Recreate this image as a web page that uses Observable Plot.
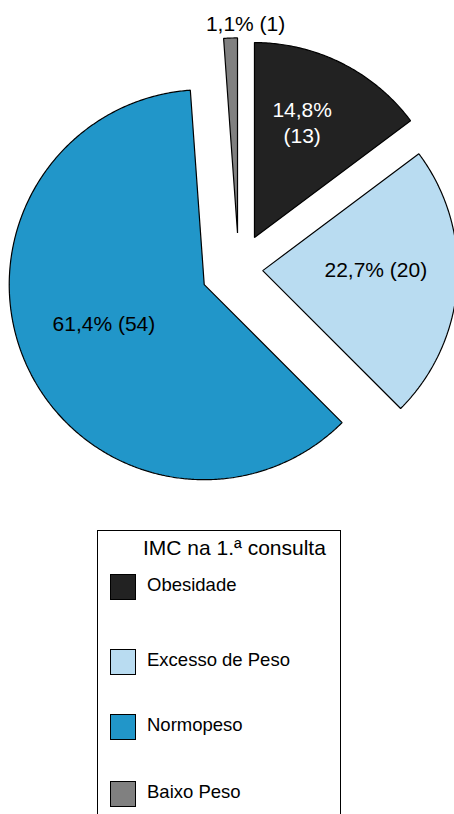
<!DOCTYPE html>
<html><head><meta charset="utf-8">
<script src="https://cdn.jsdelivr.net/npm/d3@7"></script>
<script src="https://cdn.jsdelivr.net/npm/@observablehq/plot@0.6"></script>
<style>
html,body{margin:0;padding:0;background:#fff;}
body{width:454px;height:814px;overflow:hidden;position:relative;font-family:"Liberation Sans",Arial,Helvetica,sans-serif;}
#chart{position:absolute;left:0;top:0;}
#legend{position:absolute;left:97px;top:530px;width:244px;height:330px;border:1px solid #000;box-sizing:border-box;background:#fff;}
#legend .title{position:absolute;left:45px;top:5px;font-size:21px;line-height:24px;white-space:nowrap;color:#000;}
#legend .sw{position:absolute;left:12px;width:26px;height:26px;border:1px solid #000;box-sizing:border-box;}
#legend .lab{position:absolute;left:49px;font-size:18.5px;line-height:24px;white-space:nowrap;color:#000;}
</style></head><body>
<div id="chart"></div>
<div id="legend"></div>
<script>
// ---- data ----
const categories = ["Obesidade", "Excesso de Peso", "Normopeso", "Baixo Peso"];
const counts = [13, 20, 54, 1];
const colors = ["#222222", "#b9dcf1", "#2196c9", "#808080"];
const legendTitle = "IMC na 1.ª consulta";

// ---- layout ----
const W = 454, H = 500;
const cx = 238.3, cy = 268.4, R = 195;
const explodePx = [35, 24, 38, 36];
const labelLayout = [ // [radius fraction from slice apex, angle in degrees]
  [0.645, 22.3], [0.58, 89], [0.55, 249.3], [1.08, 2.2]
];
const labelInk = ["#ffffff", "#000000", "#000000", "#000000"];
const legendTops = [43, 118, 183, 250];

const total = d3.sum(counts);
const fmt = v => (Math.round(v * 10) / 10).toFixed(1).replace(".", ",");
const arcs = d3.pie().sort(null).value(d => d)(counts);

const pts = [];
const labels = [];
arcs.forEach((a, i) => {
  const name = categories[i];
  const mid = (a.startAngle + a.endAngle) / 2;
  const o = explodePx[i] / R;
  const ax = Math.sin(mid) * o, ay = -Math.cos(mid) * o;
  pts.push({name, x: ax, y: ay});
  const n = Math.max(4, Math.ceil((a.endAngle - a.startAngle) / (Math.PI / 360)));
  for (let k = 0; k <= n; k++) {
    const t = a.startAngle + (a.endAngle - a.startAngle) * k / n;
    pts.push({name, x: ax + Math.sin(t), y: ay - Math.cos(t)});
  }
  const pct = fmt(counts[i] / total * 100) + "%";
  const [fr, deg] = labelLayout[i];
  const la = deg * Math.PI / 180;
  const text = name === "Obesidade" ? `${pct}\n(${counts[i]})` : `${pct} (${counts[i]})`;
  labels.push({name, text, ink: labelInk[i], x: ax + Math.sin(la) * fr, y: ay - Math.cos(la) * fr});
});

const font = '"Liberation Sans", Arial, Helvetica, sans-serif';
const chart = Plot.plot({
  width: W, height: H, margin: 0,
  style: {fontFamily: font, background: "transparent"},
  x: {domain: [-cx / R, (W - cx) / R], range: [0, W], axis: null},
  y: {domain: [-cy / R, (H - cy) / R], range: [0, H], axis: null},
  color: {domain: categories, range: colors},
  marks: [
    Plot.line(pts, {x: "x", y: "y", z: "name", fill: "name", stroke: "#000", strokeWidth: 1.2, strokeLinejoin: "miter", curve: "linear-closed"}),
    Plot.text(labels.filter(d => d.ink === "#ffffff"), {x: "x", y: "y", text: "text", fill: "#ffffff", fontSize: 21, lineHeight: 1.24, fontFamily: font}),
    Plot.text(labels.filter(d => d.ink !== "#ffffff"), {x: "x", y: "y", text: "text", fill: "#000000", fontSize: 21, lineHeight: 1.24, fontFamily: font})
  ]
});
document.getElementById("chart").appendChild(chart);

// ---- legend ----
const lg = document.getElementById("legend");
const t = document.createElement("div");
t.className = "title"; t.textContent = legendTitle; lg.appendChild(t);
categories.forEach((c, i) => {
  const sw = document.createElement("div");
  sw.className = "sw"; sw.style.top = legendTops[i] + "px"; sw.style.background = colors[i];
  lg.appendChild(sw);
  const lab = document.createElement("div");
  lab.className = "lab"; lab.style.top = (legendTops[i] - 1.5) + "px"; lab.textContent = c;
  lg.appendChild(lab);
});
</script>
</body></html>
